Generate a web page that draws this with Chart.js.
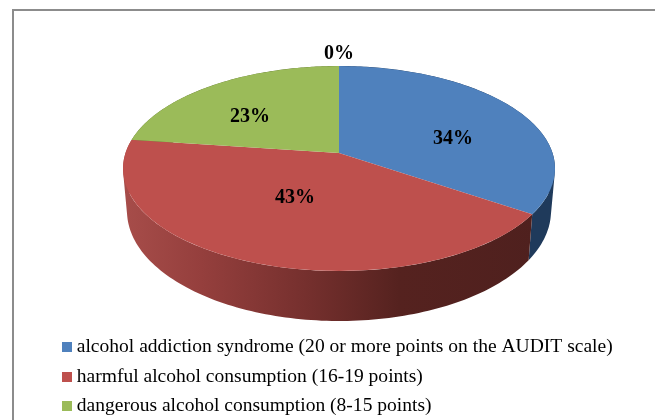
<!DOCTYPE html>
<html>
<head>
<meta charset="utf-8">
<style>
  html, body { margin: 0; padding: 0; background: #fff; }
  #wrap { width: 655px; height: 420px; overflow: hidden; }
</style>
<script src="https://cdn.jsdelivr.net/npm/chart.js@4/dist/chart.umd.min.js"></script>
</head>
<body>
<div id="wrap"><canvas id="pieChart" width="655" height="420"></canvas></div>
<script>
var categories = [
    'alcohol addiction syndrome (20 or more points on the AUDIT scale)',
    'harmful alcohol consumption (16-19 points)',
    'dangerous alcohol consumption (8-15 points)',
    ''
];
var percentValues = [34, 43, 23, 0];

var topColors = ['#4F81BD', '#BE504D', '#9BBB59', '#8064A2'];
var serif = '"Liberation Serif", "Times New Roman", serif';

// tilted pie: hub and rim are not concentric because of the perspective
var hub = { x: 339, y: 153 };
var squash = 0.5;
var rim = { x: 339, y: 168.5, rx: 216, ry: 102.5 };
var baseRim = { x: 339, y: 211, rx: 212, ry: 110 };

var labelRadius = 130;
var labelNudge = [[0, 17], [0, -16], [-3, 13], [0, -34]];

// where a slice edge at this angle meets the rim
function rimPoint(angle) {
    var dx = Math.cos(angle), dy = Math.sin(angle) * squash;
    var d = rim.y - hub.y;
    var a = dx * dx / (rim.rx * rim.rx) + dy * dy / (rim.ry * rim.ry);
    var b = -2 * dy * d / (rim.ry * rim.ry);
    var c = d * d / (rim.ry * rim.ry) - 1;
    var t = (-b + Math.sqrt(b * b - 4 * a * c)) / (2 * a);
    return { x: hub.x + dx * t, y: hub.y + dy * t };
}

// same rim position on the narrower ellipse at the foot of the wall
function basePoint(p) {
    return {
        x: baseRim.x + (p.x - rim.x) / rim.rx * baseRim.rx,
        y: baseRim.y + (p.y - rim.y) / rim.ry * baseRim.ry
    };
}

function wallFill(ctx, index) {
    var g = ctx.createLinearGradient(rim.x - rim.rx, 0, rim.x + rim.rx, 0);
    if (index === 1) {
        g.addColorStop(0, '#A74D4A');
        g.addColorStop(0.18, '#953F3D');
        g.addColorStop(0.42, '#76302E');
        g.addColorStop(0.64, '#55221F');
        g.addColorStop(1, '#4E201E');
        return g;
    }
    if (index === 0) return '#1F3A5B';
    return '#5D7030';
}

// one strip of wall, always wound the same way so the strips add up
function addStrip(ctx, a, b) {
    var c = basePoint(b), d = basePoint(a);
    var quad = [a, b, c, d];
    var area = 0;
    quad.forEach(function (p, i) {
        var q = quad[(i + 1) % 4];
        area += p.x * q.y - q.x * p.y;
    });
    if (area < 0) quad.reverse();
    ctx.moveTo(quad[0].x, quad[0].y);
    ctx.lineTo(quad[1].x, quad[1].y);
    ctx.lineTo(quad[2].x, quad[2].y);
    ctx.lineTo(quad[3].x, quad[3].y);
    ctx.closePath();
}

var tiltedPie = {
    id: 'tiltedPie',
    beforeDraw: function (chart) {
        var ctx = chart.ctx;
        ctx.save();
        ctx.fillStyle = '#8C8C8C';
        ctx.fillRect(12, 9, 643, 2);
        ctx.fillRect(12, 9, 2, 411);
        ctx.restore();
    },
    beforeDatasetsDraw: function (chart) {
        var ctx = chart.ctx;
        var arcs = chart.getDatasetMeta(0).data;
        arcs.forEach(function (arc, i) {
            var sweep = arc.endAngle - arc.startAngle;
            if (sweep <= 0) return;
            var steps = 120, k;
            ctx.beginPath();
            for (k = 0; k < steps; k++) {
                addStrip(ctx, rimPoint(arc.startAngle + sweep * k / steps), rimPoint(arc.startAngle + sweep * (k + 1) / steps));
            }
            ctx.fillStyle = wallFill(ctx, i);
            ctx.fill();
        });
        ctx.save();
        ctx.beginPath();
        ctx.ellipse(rim.x, rim.y, rim.rx, rim.ry, 0, 0, Math.PI * 2);
        ctx.clip();
        ctx.translate(hub.x, hub.y);
        ctx.scale(1, squash);
        ctx.translate(-arcs[0].x, -arcs[0].y);
    },
    afterDatasetsDraw: function (chart) {
        var ctx = chart.ctx;
        ctx.restore();
        ctx.save();
        ctx.fillStyle = '#000';
        ctx.font = 'bold 20px ' + serif;
        ctx.textAlign = 'center';
        ctx.textBaseline = 'middle';
        chart.getDatasetMeta(0).data.forEach(function (arc, i) {
            var mid = (arc.startAngle + arc.endAngle) / 2;
            var x = hub.x + Math.cos(mid) * labelRadius + labelNudge[i][0];
            var y = hub.y + Math.sin(mid) * labelRadius * squash + labelNudge[i][1];
            ctx.fillText(percentValues[i] + '%', x, y);
        });
        ctx.restore();
    }
};

// square legend markers, the default gap to the text is too wide
function legendSwatch(color) {
    var c = document.createElement('canvas');
    c.width = 10;
    c.height = 10;
    var g = c.getContext('2d');
    g.fillStyle = color;
    g.fillRect(0, 0, 10, 10);
    return c;
}

var ctx = document.getElementById('pieChart').getContext('2d');
var pieChart = new Chart(ctx, {
    type: 'pie',
    data: {
        labels: categories,
        datasets: [
            {
                data: percentValues,
                backgroundColor: topColors,
                borderWidth: 0,
                radius: 300,
                clip: false
            }
        ]
    },
    options: {
        responsive: false,
        animation: false,
        layout: {
            padding: { left: 56, right: 0, top: 0, bottom: -6 }
        },
        plugins: {
            tooltip: { enabled: false },
            legend: {
                position: 'bottom',
                align: 'start',
                labels: {
                    usePointStyle: true,
                    pointStyleWidth: 1,
                    padding: 10,
                    color: '#000',
                    font: { family: serif, size: 19.55 },
                    filter: function (item) { return item.text !== ''; },
                    generateLabels: function (chart) {
                        return categories.map(function (name, i) {
                            return {
                                text: name,
                                pointStyle: legendSwatch(topColors[i]),
                                fontColor: '#000',
                                hidden: false,
                                index: i
                            };
                        });
                    }
                }
            }
        }
    },
    plugins: [tiltedPie]
});
</script>
</body>
</html>
